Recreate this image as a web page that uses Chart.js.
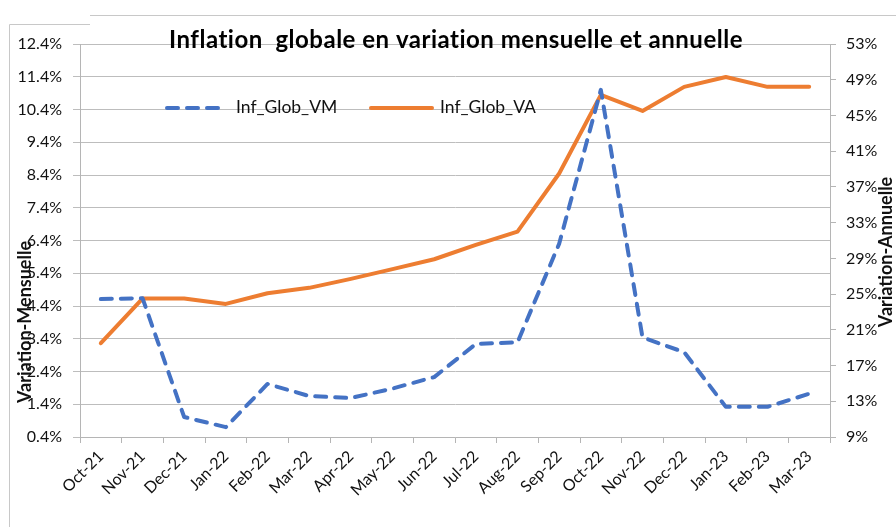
<!DOCTYPE html>
<html>
<head>
<meta charset="utf-8">
<script src="https://cdn.jsdelivr.net/npm/chart.js@4"></script>
<style>
  html, body { margin: 0; padding: 0; background: #fff; }
  #wrap { width: 896px; height: 527px; }
</style>
</head>
<body>
<div id="wrap"><canvas id="inflChart" width="896" height="527"></canvas></div>
<script>
// Data
const months = ['Oct-21', 'Nov-21', 'Dec-21', 'Jan-22', 'Feb-22', 'Mar-22', 'Apr-22', 'May-22', 'Jun-22',
                'Jul-22', 'Aug-22', 'Sep-22', 'Oct-22', 'Nov-22', 'Dec-22', 'Jan-23', 'Feb-23', 'Mar-23'];
const infGlobVM = [4.61, 4.64, 1.01, 0.70, 2.02, 1.65, 1.59, 1.88, 2.23, 3.24, 3.29, 6.3, 11.0, 3.44, 2.99, 1.32, 1.32, 1.72];
const infGlobVA = [19.5, 24.5, 24.5, 23.9, 25.1, 25.7, 26.7, 27.8, 28.9, 30.5, 32.0, 38.5, 47.3, 45.5, 48.2, 49.3, 48.2, 48.2];
const leftTicks = { min: 0.4, max: 12.4, step: 1 };
const rightTicks = { min: 9, max: 53, step: 4 };

const FONT = 'Lato, "Open Sans", sans-serif';
const BLUE = '#4472C4';
const ORANGE = '#ED7D31';

// title, legend, axis titles and frame drawn on top of the chart
const decorPlugin = {
    id: 'decor',
    afterDraw(chart) {
        const ctx = chart.ctx;
        ctx.save();

        // frame
        ctx.strokeStyle = '#c8c8c8';
        ctx.lineWidth = 1;
        ctx.beginPath();
        ctx.moveTo(9.5, 527);
        ctx.lineTo(9.5, 24.5);
        ctx.lineTo(90, 24.5);
        ctx.moveTo(90, 15.5);
        ctx.lineTo(896, 15.5);
        ctx.stroke();

        // title
        ctx.fillStyle = '#000';
        ctx.font = 'bold 24px ' + FONT;
        ctx.letterSpacing = '0.5px';
        ctx.textAlign = 'center';
        ctx.textBaseline = 'alphabetic';
        ctx.fillText('Inflation  globale en variation mensuelle et annuelle', 456, 48);
        ctx.letterSpacing = '0px';

        // legend
        ctx.lineWidth = 4;
        ctx.lineCap = 'round';
        ctx.strokeStyle = BLUE;
        ctx.setLineDash([11, 9]);
        ctx.beginPath();
        ctx.moveTo(167, 108);
        ctx.lineTo(224, 108);
        ctx.stroke();
        ctx.setLineDash([]);
        ctx.strokeStyle = ORANGE;
        ctx.beginPath();
        ctx.moveTo(371, 108);
        ctx.lineTo(432, 108);
        ctx.stroke();
        ctx.font = '17.5px ' + FONT;
        ctx.textAlign = 'left';
        ctx.textBaseline = 'middle';
        ctx.fillStyle = '#111';
        ctx.fillText('Inf_Glob_VM', 236, 107);
        ctx.fillText('Inf_Glob_VA', 440, 107);

        // axis titles
        ctx.font = 'bold 18px ' + FONT;
        ctx.textAlign = 'center';
        ctx.save();
        ctx.translate(25, 322);
        ctx.rotate(-Math.PI / 2);
        ctx.fillText('Variation-Mensuelle', 0, 0);
        ctx.restore();
        ctx.save();
        ctx.translate(886, 252);
        ctx.rotate(-Math.PI / 2);
        ctx.fillText('Variation-Annuelle', 0, 0);
        ctx.restore();

        ctx.restore();
    }
};

const ctx = document.getElementById('inflChart').getContext('2d');
new Chart(ctx, {
    type: 'line',
    data: {
        labels: months,
        datasets: [{
            label: 'Inf_Glob_VM',
            data: infGlobVM,
            yAxisID: 'y',
            borderColor: BLUE,
            backgroundColor: BLUE,
            borderWidth: 4,
            borderDash: [11, 9],
            borderCapStyle: 'round',
            borderJoinStyle: 'round',
            pointRadius: 0,
            tension: 0
        }, {
            label: 'Inf_Glob_VA',
            data: infGlobVA,
            yAxisID: 'y1',
            borderColor: ORANGE,
            backgroundColor: ORANGE,
            borderWidth: 4,
            borderCapStyle: 'round',
            borderJoinStyle: 'round',
            pointRadius: 0,
            tension: 0
        }]
    },
    options: {
        responsive: false,
        animation: false,
        devicePixelRatio: 1,
        layout: { padding: { top: 44, left: 0, right: 0, bottom: 0 } },
        plugins: {
            legend: { display: false },
            title: { display: false },
            tooltip: { enabled: false }
        },
        scales: {
            x: {
                offset: true,
                grid: {
                    offset: true,
                    drawOnChartArea: false,
                    drawTicks: true,
                    tickLength: 6,
                    color: '#b5b5b5'
                },
                border: { display: true, color: '#b5b5b5' },
                ticks: {
                    minRotation: 45,
                    maxRotation: 45,
                    autoSkip: false,
                    padding: 4,
                    color: '#111',
                    font: { family: FONT, size: 16 }
                },
                afterFit: (s) => { s.height = 90; }
            },
            y: {
                position: 'left',
                min: leftTicks.min,
                max: leftTicks.max,
                grid: { color: '#bdbdbd', tickLength: 7 },
                border: { display: true, color: '#b5b5b5' },
                ticks: {
                    stepSize: leftTicks.step,
                    padding: 11,
                    color: '#111',
                    font: { family: FONT, size: 16 },
                    callback: (v) => v.toFixed(1) + '%'
                },
                afterFit: (s) => { s.width = 80; }
            },
            y1: {
                position: 'right',
                min: rightTicks.min,
                max: rightTicks.max,
                grid: { drawOnChartArea: false, color: '#b5b5b5', tickLength: 6 },
                border: { display: true, color: '#b5b5b5' },
                ticks: {
                    stepSize: rightTicks.step,
                    padding: 10,
                    color: '#111',
                    font: { family: FONT, size: 16 },
                    callback: (v) => Math.round(v) + '%'
                },
                afterFit: (s) => { s.width = 66; }
            }
        }
    },
    plugins: [decorPlugin]
});
</script>
</body>
</html>
